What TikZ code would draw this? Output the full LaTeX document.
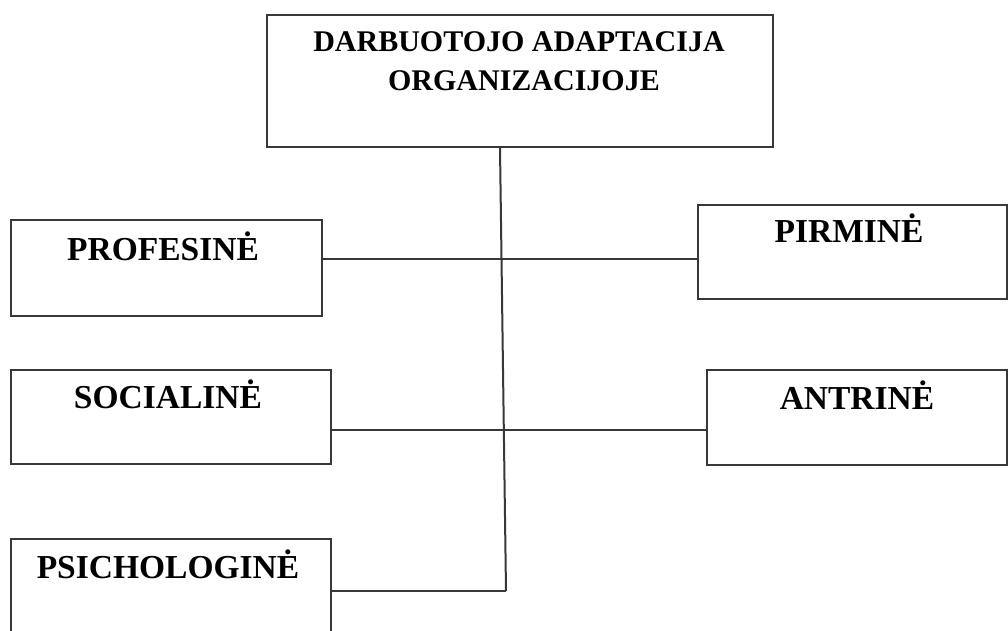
\documentclass[tikz,border=0pt]{standalone}
\usepackage{fontspec}
\setmainfont{Liberation Serif}
\begin{document}
\begin{tikzpicture}[x=1pt,y=-1pt,
  box/.style={draw=black!78,line width=2pt,rectangle,anchor=north west,inner sep=0pt},
  lbl/.style={anchor=base,inner sep=0pt,font=\fontsize{33.5}{39}\selectfont\bfseries},
  toplbl/.style={anchor=base,inner sep=0pt,font=\fontsize{30}{39}\selectfont\bfseries},
  conn/.style={draw=black!78,line width=2pt}]
\useasboundingbox[fill=white] (0,0) rectangle (1008,631);
\clip (0,0) rectangle (1008,631);
% boxes
\node[box,minimum width=506pt,minimum height=132pt] (top) at (266,14) {};
\node[box,minimum width=311pt,minimum height=96pt] (prof) at (10,219) {};
\node[box,minimum width=309pt,minimum height=94pt] (pirm) at (697,204) {};
\node[box,minimum width=320pt,minimum height=94pt] (soc) at (10,369) {};
\node[box,minimum width=300pt,minimum height=95pt] (antr) at (706,369) {};
\node[box,minimum width=320pt,minimum height=120pt] (psi) at (10,538) {};
% labels
\node[toplbl] (t1) at (519,52) {DARBUOTOJO ADAPTACIJA};
\node[toplbl] (t2) at (524,91) {ORGANIZACIJOJE};
\node[lbl] (l1) at (163,260) {PROFESINĖ};
\node[lbl] (l2) at (849,242) {PIRMINĖ};
\node[lbl] (l3) at (168,408) {SOCIALINĖ};
\node[lbl] (l4) at (857,409) {ANTRINĖ};
\node[lbl] (l5) at (168,578) {PSICHOLOGINĖ};
% connectors
\coordinate (bot) at (506,591);
\draw[conn] (top.south -| 500,0) -- (bot);
\draw[conn] (prof.east |- 0,259) -- (pirm.west |- 0,259);
\draw[conn] (soc.east |- 0,430) -- (antr.west |- 0,430);
\draw[conn] (psi.east |- bot) -- (bot);
\end{tikzpicture}
\end{document}
